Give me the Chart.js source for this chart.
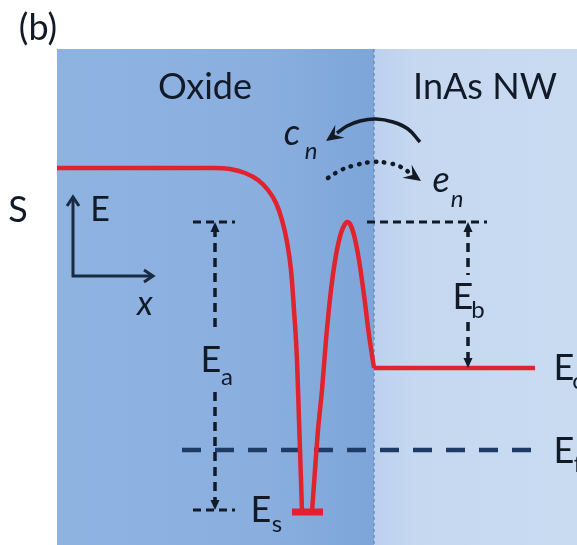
<!DOCTYPE html>
<html>
<head>
<meta charset="utf-8">
<script src="https://cdn.jsdelivr.net/npm/chart.js@4/dist/chart.umd.min.js"></script>
<style>
  html, body { margin: 0; padding: 0; background: #ffffff; }
  #wrap { width: 577px; height: 545px; }
</style>
</head>
<body>
<div id="wrap"><canvas id="band" width="577" height="545"></canvas></div>
<script>
// Band diagram across the oxide / InAs nanowire interface.
// Position in nm (interface at x = 0), energy in eV (Fermi level at 0).

// plot window
const X_MIN = -18.7, X_MAX = 10.15;
const E_MIN = -0.95, E_MAX = 4.5;

// regions
const X_OXIDE_EDGE = -15.85;
const X_INTERFACE = 0;
const X_NW_EDGE = 10.15;
const E_REGION_TOP = 4.01;

// energy levels
const E_F = 0.0;
const E_C = 0.82;
const E_S = -0.62;
const E_BARRIER = 2.28;

// oxide conduction band bending down into the surface trap
const oxideBandX = [-15.85, -7.95, -7.2, -6.45, -5.8, -5.3, -4.9, -4.6, -4.35, -4.15, -4.0, -3.85, -3.75, -3.65, -3.6];
const oxideBandE = [2.82, 2.82, 2.81, 2.77, 2.70, 2.60, 2.47, 2.30, 2.08, 1.80, 1.40, 0.90, 0.30, -0.30, -0.62];

// thin barrier between the trap and the nanowire
const barrierX = [-3.1, -2.95, -2.8, -2.6, -2.4, -2.15, -1.9, -1.65, -1.45, -1.35, -1.2, -1.0, -0.75, -0.5, -0.25, 0.0];
const barrierE = [-0.62, -0.20, 0.20, 0.60, 1.10, 1.60, 1.95, 2.17, 2.26, 2.28, 2.26, 2.15, 1.90, 1.55, 1.15, 0.82];

// horizontal extents of the drawn levels
const conductionX = [0.0, 8.05];
const trapX = [-4.1, -2.55];
const fermiX = [-9.6, 8.15];
const eaTickX = [-9.05, -6.95];
const ebTickX = [-0.35, 5.65];
const EA_X = -7.95;
const EB_X = 4.7;
const eaLabelGap = [1.2, 0.58];
const ebLabelGap = [1.75, 1.28];

// E-x orientation key
const keyOriginX = -15.05, keyOriginE = 1.74;
const keyTipX = -11.05, keyTipE = 2.53;

// capture (solid) and emission (dotted) arcs
const captureArcX = [2.3, 1.7, 0.95, 0.1, -0.7, -1.35, -1.85];
const captureArcE = [3.08, 3.21, 3.28, 3.31, 3.29, 3.24, 3.17];
const emissionArcX = [-2.3, -1.65, -0.9, -0.1, 0.7, 1.35, 1.8];
const emissionArcE = [2.72, 2.80, 2.85, 2.88, 2.87, 2.83, 2.77];

const RED = '#e0232d';
const NAVY = '#1e3b66';
const INK = '#111a26';

const pts = (xs, es) => xs.map((x, i) => ({ x: x, y: es[i] }));
const level = (xs, e) => xs.map(x => ({ x: x, y: e }));

function line(data, color, width, extra) {
  return Object.assign({
    data: data, showLine: true, borderColor: color, borderWidth: width,
    pointRadius: 0, fill: false, tension: 0
  }, extra || {});
}

const datasets = [
  line(pts(oxideBandX, oxideBandE), RED, 4.5, { cubicInterpolationMode: 'monotone' }),
  line(pts(barrierX, barrierE), RED, 4.5, { cubicInterpolationMode: 'monotone' }),
  line(level(conductionX, E_C), RED, 4.5),
  line(level(trapX, E_S), RED, 7),
  line(level(fermiX, E_F), NAVY, 4.5, { borderDash: [19, 14] }),
  line(level(eaTickX, E_BARRIER), INK, 3, { borderDash: [8, 5] }),
  line(level(eaTickX, E_S + 0.02), INK, 3, { borderDash: [8, 5] }),
  line(level(ebTickX, E_BARRIER), INK, 3, { borderDash: [8, 5] }),
  line([{ x: EA_X, y: E_BARRIER - 0.06 }, { x: EA_X, y: eaLabelGap[0] }], INK, 3.5, { borderDash: [9, 6] }),
  line([{ x: EA_X, y: eaLabelGap[1] }, { x: EA_X, y: E_S + 0.08 }], INK, 3.5, { borderDash: [9, 6] }),
  line([{ x: EB_X, y: E_BARRIER - 0.06 }, { x: EB_X, y: ebLabelGap[0] }], INK, 3.5, { borderDash: [9, 6] }),
  line([{ x: EB_X, y: ebLabelGap[1] }, { x: EB_X, y: E_C + 0.06 }], INK, 3.5, { borderDash: [9, 6] }),
  line([{ x: keyOriginX, y: keyTipE - 0.01 }, { x: keyOriginX, y: keyOriginE }, { x: keyTipX - 0.05, y: keyOriginE }], '#1a2a42', 3),
  line(pts(captureArcX, captureArcE), INK, 3.5, { tension: 0.4 }),
  line(pts(emissionArcX, emissionArcE), INK, 4.5, { tension: 0.4, borderDash: [0.5, 8], borderCapStyle: 'round' })
];

// arrowheads: [x, E, direction (deg, screen), kind, length, half width]
const arrowHeads = [
  [EA_X, E_BARRIER, -90, 'solid', 10, 4.5],
  [EA_X, E_S + 0.02, 90, 'solid', 10, 4.5],
  [EB_X, E_BARRIER, -90, 'solid', 10, 4.5],
  [EB_X, E_C, 90, 'solid', 10, 4.5],
  [keyOriginX, keyTipE, -90, 'open', 9, 6],
  [keyTipX, keyOriginE, 0, 'open', 9, 6],
  [-2.4, 3.09, 145, 'barb', 17, 8],
  [2.35, 2.69, 35, 'barb', 17, 8]
];

// text: [text, x, E, size, italic]
const labels = [
  ['(b)', -16.8, 4.22, 36, false],
  ['Oxide', -8.45, 3.63, 36, false],
  ['InAs NW', 5.55, 3.63, 36, false],
  ['S', -17.8, 2.40, 36, false],
  ['E', -13.7, 2.40, 34, false],
  ['x', -11.45, 1.46, 34, true],
  ['c', -4.1, 3.17, 36, true],
  ['n', -3.15, 2.99, 24, true],
  ['e', 3.35, 2.70, 36, true],
  ['n', 4.15, 2.51, 24, true],
  ['E', -8.15, 0.90, 36, false],
  ['a', -7.35, 0.73, 24, false],
  ['E', 4.45, 1.53, 36, false],
  ['b', 5.2, 1.40, 24, false],
  ['E', -5.65, -0.60, 36, false],
  ['s', -4.85, -0.74, 24, false],
  ['E', 9.5, 0.82, 36, false],
  ['c', 10.2, 0.69, 24, false],
  ['E', 9.5, -0.01, 36, false],
  ['f', 10.2, -0.14, 24, false]
];

const regionsPlugin = {
  id: 'regions',
  beforeDatasetsDraw(chart) {
    const ctx = chart.ctx, xs = chart.scales.x, ys = chart.scales.y;
    const xl = xs.getPixelForValue(X_OXIDE_EDGE);
    const xi = xs.getPixelForValue(X_INTERFACE);
    const xr = xs.getPixelForValue(X_NW_EDGE);
    const yt = ys.getPixelForValue(E_REGION_TOP);
    const yb = ys.getPixelForValue(E_MIN);
    ctx.save();
    let g = ctx.createLinearGradient(xl, 0, xi, 0);
    g.addColorStop(0, '#8fb3e1');
    g.addColorStop(0.65, '#8aafdf');
    g.addColorStop(1, '#7ea5d9');
    ctx.fillStyle = g;
    ctx.fillRect(xl, yt, xi - xl, yb - yt);
    g = ctx.createLinearGradient(xi, 0, xr, 0);
    g.addColorStop(0, '#bcd1ee');
    g.addColorStop(0.2, '#c5d8f0');
    g.addColorStop(1, '#c9dbf1');
    ctx.fillStyle = g;
    ctx.fillRect(xi, yt, xr - xi, yb - yt);
    // interface
    ctx.strokeStyle = '#6a88b3';
    ctx.lineWidth = 1.3;
    ctx.setLineDash([3, 3]);
    ctx.beginPath();
    ctx.moveTo(xi, yt);
    ctx.lineTo(xi, yb);
    ctx.stroke();
    ctx.restore();
  }
};

function drawHead(ctx, x, y, deg, kind, len, half) {
  ctx.save();
  ctx.translate(x, y);
  ctx.rotate(deg * Math.PI / 180);
  ctx.beginPath();
  if (kind === 'open') {
    ctx.strokeStyle = '#1a2a42';
    ctx.lineWidth = 3;
    ctx.lineJoin = 'miter';
    ctx.moveTo(-len, -half);
    ctx.lineTo(0, 0);
    ctx.lineTo(-len, half);
    ctx.stroke();
  } else if (kind === 'barb') {
    ctx.fillStyle = INK;
    ctx.moveTo(0, 0);
    ctx.lineTo(-len, -half);
    ctx.lineTo(-len * 0.62, 0);
    ctx.lineTo(-len, half);
    ctx.closePath();
    ctx.fill();
  } else {
    ctx.fillStyle = INK;
    ctx.moveTo(0, 0);
    ctx.lineTo(-len, -half);
    ctx.lineTo(-len, half);
    ctx.closePath();
    ctx.fill();
  }
  ctx.restore();
}

const annotationPlugin = {
  id: 'annotations',
  afterDatasetsDraw(chart) {
    const ctx = chart.ctx, xs = chart.scales.x, ys = chart.scales.y;
    arrowHeads.forEach(a => {
      drawHead(ctx, xs.getPixelForValue(a[0]), ys.getPixelForValue(a[1]), a[2], a[3], a[4], a[5]);
    });
    ctx.save();
    ctx.fillStyle = INK;
    ctx.textAlign = 'center';
    ctx.textBaseline = 'middle';
    labels.forEach(l => {
      ctx.font = (l[4] ? 'italic ' : '') + l[3] + 'px Lato, "Open Sans", sans-serif';
      ctx.fillText(l[0], xs.getPixelForValue(l[1]), ys.getPixelForValue(l[2]));
    });
    ctx.restore();
  }
};

new Chart(document.getElementById('band'), {
  type: 'scatter',
  data: { datasets: datasets },
  options: {
    responsive: false,
    animation: false,
    devicePixelRatio: 1,
    events: [],
    layout: { padding: 0 },
    plugins: { legend: { display: false }, tooltip: { enabled: false } },
    scales: {
      x: { type: 'linear', min: X_MIN, max: X_MAX, display: false },
      y: { type: 'linear', min: E_MIN, max: E_MAX, display: false }
    }
  },
  plugins: [regionsPlugin, annotationPlugin]
});
</script>
</body>
</html>
